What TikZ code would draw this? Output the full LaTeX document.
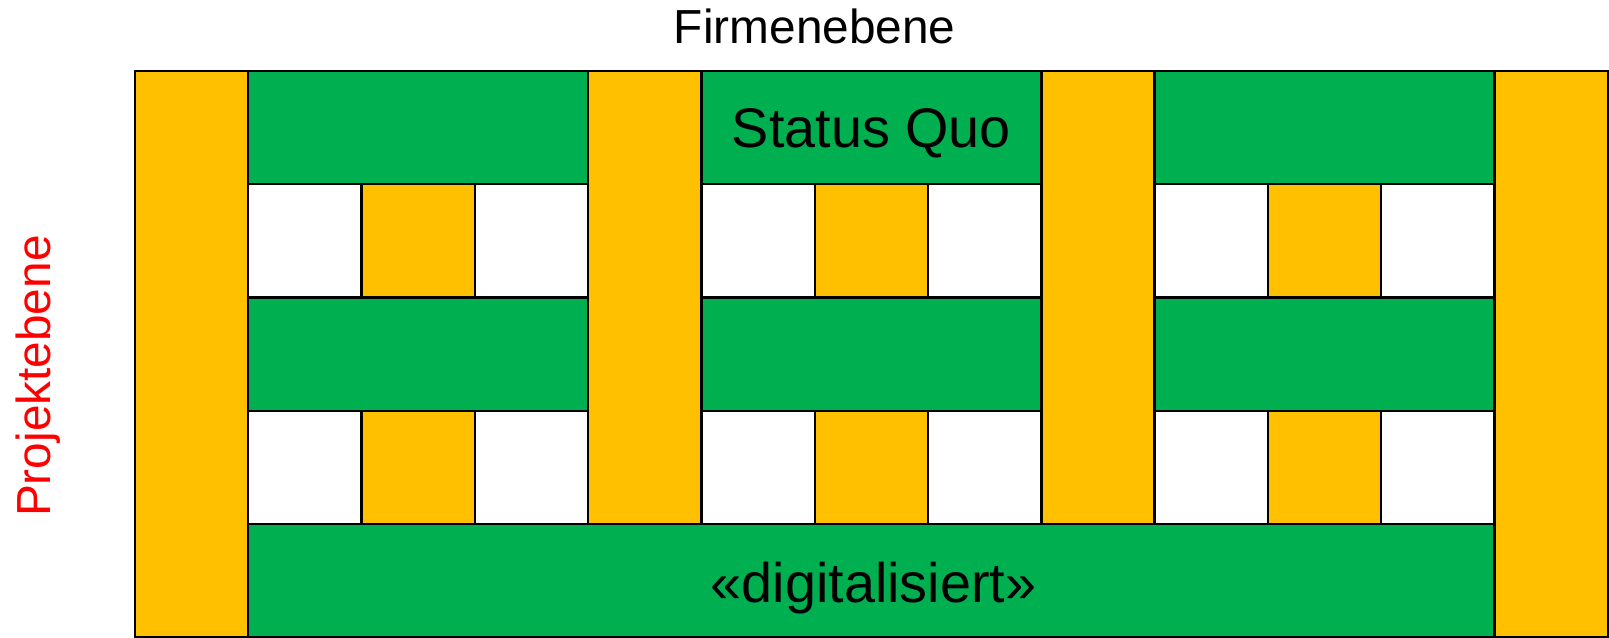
\documentclass[tikz,border=0pt]{standalone}
\usepackage{fontspec}
\setmainfont{Liberation Sans}
\usepackage{tikz}
\definecolor{gelb}{HTML}{FFC000}
\definecolor{gruen}{HTML}{00B050}

\begin{document}
\begin{tikzpicture}[feld/.style={rectangle, draw, line width=0.6pt, inner sep=0pt, outer sep=0pt}]
    \useasboundingbox (-1.19,0) rectangle (13.01,5.625);
    % Place tall bars
    \node [feld, fill=gelb, minimum width=1cm, minimum height=5cm] (G1) at (0.5,2.5) {};
    \node [feld, fill=gelb, minimum width=1cm, minimum height=4cm] (G2) at (4.5,3) {};
    \node [feld, fill=gelb, minimum width=1cm, minimum height=4cm] (G3) at (8.5,3) {};
    \node [feld, fill=gelb, minimum width=1cm, minimum height=5cm] (G4) at (12.5,2.5) {};
    % Place green bars
    \node [feld, fill=gruen, minimum width=3cm, minimum height=1cm] (T1) at (2.5,4.5) {};
    \node [feld, fill=gruen, minimum width=3cm, minimum height=1cm] (T2) at (6.5,4.5) {};
    \node [feld, fill=gruen, minimum width=3cm, minimum height=1cm] (T3) at (10.5,4.5) {};
    \node [feld, fill=gruen, minimum width=3cm, minimum height=1cm] (M1) at (2.5,2.5) {};
    \node [feld, fill=gruen, minimum width=3cm, minimum height=1cm] (M2) at (6.5,2.5) {};
    \node [feld, fill=gruen, minimum width=3cm, minimum height=1cm] (M3) at (10.5,2.5) {};
    \node [feld, fill=gruen, minimum width=11cm, minimum height=1cm] (U) at (6.5,0.5) {};
    % Place small squares
    \node [feld, fill=gelb, minimum size=1cm] (K1) at (2.5,3.5) {};
    \node [feld, fill=gelb, minimum size=1cm] (K2) at (6.5,3.5) {};
    \node [feld, fill=gelb, minimum size=1cm] (K3) at (10.5,3.5) {};
    \node [feld, fill=gelb, minimum size=1cm] (K4) at (2.5,1.5) {};
    \node [feld, fill=gelb, minimum size=1cm] (K5) at (6.5,1.5) {};
    \node [feld, fill=gelb, minimum size=1cm] (K6) at (10.5,1.5) {};
    % Labels
    \node [anchor=base, inner sep=0pt, font=\fontsize{12}{14}\selectfont] (firma) at (6.0,5.245) {Firmenebene};
    \node [anchor=base, inner sep=0pt, rotate=90, text=red, font=\fontsize{12}{14}\selectfont] (projekt) at (-0.744,2.306) {Projektebene};
    \node [anchor=base, inner sep=0pt, font=\fontsize{14}{17}\selectfont] (status) at (6.5,4.327) {Status Quo};
    \node [anchor=base, inner sep=0pt, font=\fontsize{14}{17}\selectfont] (digital) at (6.52,0.312) {«digitalisiert»};
\end{tikzpicture}
\end{document}
